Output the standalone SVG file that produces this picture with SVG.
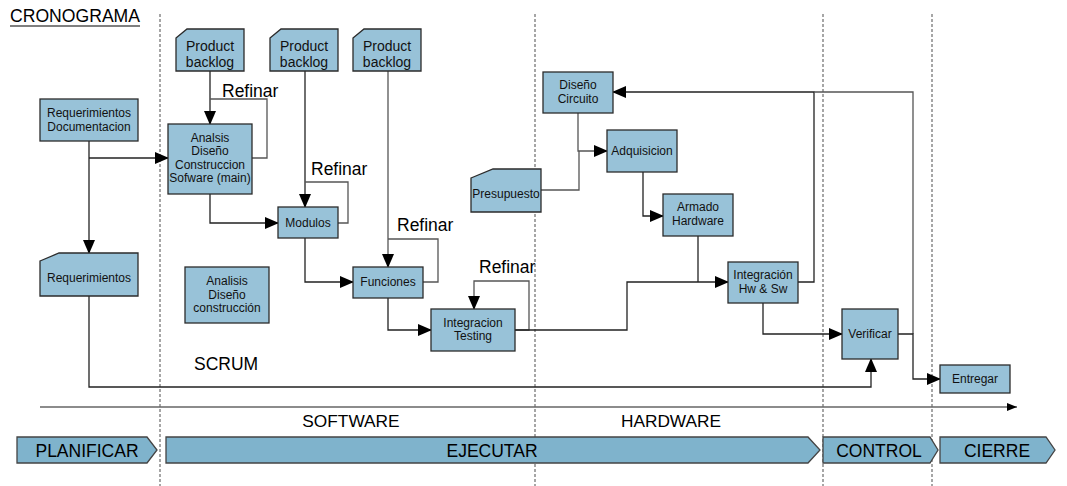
<svg xmlns="http://www.w3.org/2000/svg" width="1067" height="486" viewBox="0 0 1067 486">
<defs>
<marker id="ah" markerUnits="userSpaceOnUse" markerWidth="14" markerHeight="12" refX="13" refY="6" orient="auto">
<path d="M0,0 L14,6 L0,12 Z" fill="#000"/>
</marker>
<marker id="ahs" markerUnits="userSpaceOnUse" markerWidth="10" markerHeight="8" refX="10" refY="4" orient="auto">
<path d="M0,0 L10,4 L0,8 Z" fill="#000"/>
</marker>
<style>
.n{fill:#98c2d8;stroke:#2b2b2b;stroke-width:1.3}
.t{font-family:"Liberation Sans",Arial,sans-serif;font-size:12px;fill:#111;text-anchor:middle}
.pb{font-family:"Liberation Sans",Arial,sans-serif;font-size:14px;fill:#111;text-anchor:middle}
.lb{font-family:"Liberation Sans",Arial,sans-serif;font-size:17.5px;fill:#000}
.c{fill:none;stroke:#222;stroke-width:1.3}
.cg{fill:none;stroke:#555;stroke-width:1.3}
.d{stroke:#777;stroke-width:1.3;stroke-dasharray:3,2}
.b{fill:#7fb3cc;stroke:#444;stroke-width:1.3}
.bt{font-family:"Liberation Sans",Arial,sans-serif;font-size:17.5px;fill:#000;text-anchor:middle}
.st{font-family:"Liberation Sans",Arial,sans-serif;font-size:17.3px;fill:#000;text-anchor:middle}
.ttl{font-family:"Liberation Sans",Arial,sans-serif;font-size:17.6px;fill:#000}
</style>
</defs>
<rect width="1067" height="486" fill="#fff"/>

<g id="title">
<text x="10" y="22" class="ttl">CRONOGRAMA</text>
<line x1="10" y1="26" x2="140" y2="26" stroke="#000" stroke-width="1.2"/>
</g>

<g id="dividers">
<line x1="160" y1="14" x2="160" y2="486" class="d"/>
<line x1="535" y1="14" x2="535" y2="486" class="d"/>
<line x1="823" y1="14" x2="823" y2="486" class="d"/>
<line x1="932" y1="14" x2="932" y2="486" class="d"/>
</g>

<g id="connectors">
<path d="M89,141 V253" class="c" marker-end="url(#ah)"/>
<path d="M89,158 H168" class="c" marker-end="url(#ah)"/>
<path d="M210,71 V124" class="c" marker-end="url(#ah)"/>
<path d="M252,158 H267 V99 H210" class="cg"/>
<path d="M210,194 V223 H278" class="c" marker-end="url(#ah)"/>
<path d="M305,71 V207" class="c" marker-end="url(#ah)"/>
<path d="M338,223 H348 V182 H305" class="cg"/>
<path d="M305,238 V282 H353" class="c" marker-end="url(#ah)"/>
<path d="M388,71 V267" class="cg" marker-end="url(#ah)"/>
<path d="M423,282 H438 V239 H388" class="cg"/>
<path d="M388,298 V330 H431" class="c" marker-end="url(#ah)"/>
<path d="M515,330 H529 V281 H474 V309" class="cg" marker-end="url(#ah)"/>
<path d="M515,330 H627 V282 H728" class="c" marker-end="url(#ah)"/>
<path d="M698,236 V282" class="c"/>
<path d="M578,113 V151 H607" class="cg" marker-end="url(#ah)"/>
<path d="M541,190 H579 V151" class="cg"/>
<path d="M643,172 V216 H663" class="c" marker-end="url(#ah)"/>
<path d="M798,282 H814 V92 H613" class="c" marker-end="url(#ah)"/>
<path d="M913,334 V92 H814" class="cg"/>
<path d="M763,303 V334 H842" class="c" marker-end="url(#ah)"/>
<path d="M898,334 H913 V379 H940" class="c" marker-end="url(#ah)"/>
<path d="M89,296 V387 H871 V359" class="c" marker-end="url(#ah)"/>
<path d="M40,407 H1017" fill="none" stroke="#666" stroke-width="1.5" marker-end="url(#ahs)"/>
</g>

<g id="reqdoc">
<rect x="40" y="99" width="98" height="42" class="n"/>
<text x="89" y="117" class="t">Requerimientos</text>
<text x="89" y="131" class="t">Documentacion</text>
</g>
<g id="backlog1">
<path d="M176,38 L187,29 H244 V71 H176 Z" class="n"/>
<text x="210" y="51" class="pb">Product</text>
<text x="210" y="67" class="pb">backlog</text>
</g>
<g id="backlog2">
<path d="M270,38 L281,29 H338 V71 H270 Z" class="n"/>
<text x="304" y="51" class="pb">Product</text>
<text x="304" y="67" class="pb">backlog</text>
</g>
<g id="backlog3">
<path d="M353,38 L364,29 H421 V71 H353 Z" class="n"/>
<text x="387" y="51" class="pb">Product</text>
<text x="387" y="67" class="pb">backlog</text>
</g>
<g id="analsis">
<rect x="168" y="124" width="84" height="70" class="n"/>
<text x="210" y="142" class="t">Analsis</text>
<text x="210" y="155" class="t">Diseño</text>
<text x="210" y="169" class="t">Construccion</text>
<text x="210" y="182" class="t">Sofware (main)</text>
</g>
<g id="refinar-labels">
<text x="222" y="97" class="lb">Refinar</text>
<text x="311" y="175" class="lb">Refinar</text>
<text x="397" y="231" class="lb">Refinar</text>
<text x="479" y="273" class="lb">Refinar</text>
</g>
<g id="modulos">
<rect x="278" y="207" width="60" height="31" class="n"/>
<text x="308" y="227" class="t">Modulos</text>
</g>
<g id="requerimientos">
<path d="M40,261 L59,253 H138 V296 H40 Z" class="n"/>
<text x="89" y="282" class="t">Requerimientos</text>
</g>
<g id="analisis2">
<rect x="185" y="267" width="84" height="56" class="n"/>
<text x="227" y="285" class="t">Analisis</text>
<text x="227" y="299" class="t">Diseño</text>
<text x="227" y="312" class="t">construcción</text>
</g>
<g id="scrum">
<text x="194" y="370" class="lb">SCRUM</text>
</g>
<g id="funciones">
<rect x="353" y="267" width="70" height="31" class="n"/>
<text x="388" y="286" class="t">Funciones</text>
</g>
<g id="integracion">
<rect x="431" y="309" width="84" height="42" class="n"/>
<text x="473" y="327" class="t">Integracion</text>
<text x="473" y="340" class="t">Testing</text>
</g>
<g id="disenocircuito">
<rect x="543" y="72" width="70" height="41" class="n"/>
<text x="578" y="89" class="t">Diseño</text>
<text x="578" y="103" class="t">Circuito</text>
</g>
<g id="adquisicion">
<rect x="607" y="130" width="70" height="42" class="n"/>
<text x="642" y="155" class="t">Adquisicion</text>
</g>
<g id="presupuesto">
<path d="M471,178 L493,169 H541 V212 H471 Z" class="n"/>
<text x="506" y="198" class="t">Presupuesto</text>
</g>
<g id="armado">
<rect x="663" y="194" width="70" height="42" class="n"/>
<text x="698" y="211" class="t">Armado</text>
<text x="698" y="225" class="t">Hardware</text>
</g>
<g id="hwsw">
<rect x="728" y="262" width="70" height="41" class="n"/>
<text x="763" y="279" class="t">Integración</text>
<text x="763" y="293" class="t">Hw &amp; Sw</text>
</g>
<g id="verificar">
<rect x="842" y="309" width="56" height="50" class="n"/>
<text x="870" y="338" class="t">Verificar</text>
</g>
<g id="entregar">
<rect x="940" y="365" width="70" height="28" class="n"/>
<text x="975" y="383" class="t">Entregar</text>
</g>
<g id="section-labels">
<text x="351" y="427" class="st">SOFTWARE</text>
<text x="671" y="427" class="st">HARDWARE</text>
</g>
<g id="planificar">
<path d="M17,437 H147 L157,450 L147,463 H17 Z" class="b"/>
<text x="87" y="456.5" class="bt">PLANIFICAR</text>
</g>
<g id="ejecutar">
<path d="M166,437 H808 L820,450 L808,463 H166 Z" class="b"/>
<text x="492" y="456.5" class="bt">EJECUTAR</text>
</g>
<g id="control">
<path d="M823,437 H930 L938,450 L930,463 H823 Z" class="b"/>
<text x="879" y="456.5" class="bt">CONTROL</text>
</g>
<g id="cierre">
<path d="M940,437 H1046 L1055,450 L1046,463 H940 Z" class="b"/>
<text x="997" y="456.5" class="bt">CIERRE</text>
</g>
</svg>
